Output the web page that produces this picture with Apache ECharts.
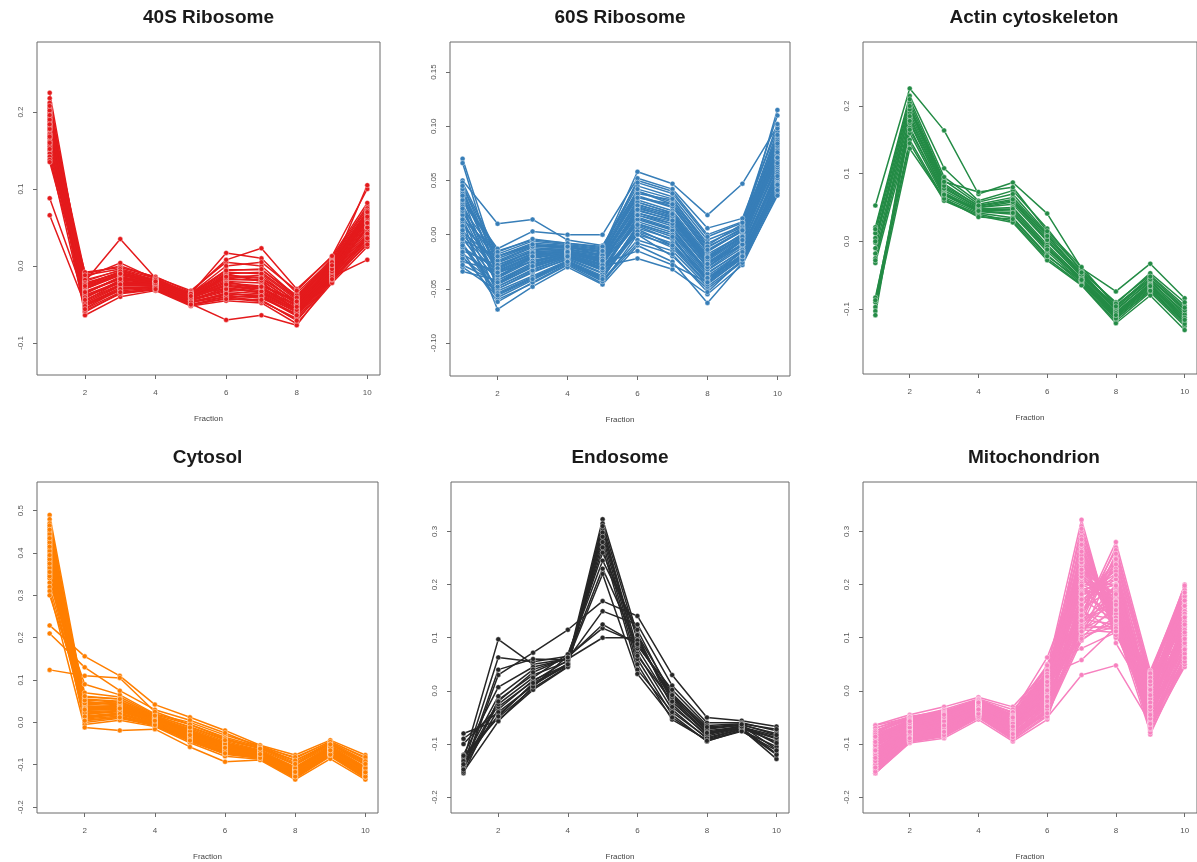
<!DOCTYPE html>
<html>
<head>
<meta charset="utf-8">
<script src="https://cdn.jsdelivr.net/npm/echarts@6/dist/echarts.min.js"></script>
<style>
  html, body { margin: 0; padding: 0; background: #fff; }
  #chart { width: 1197px; height: 862px; }
</style>
</head>
<body>
<div id="chart"></div>
<script>
// Fractionation profiles of marker proteins, one line per protein, fractions 1-10
const fractions = [1, 2, 3, 4, 5, 6, 7, 8, 9, 10];
const fractionTicks = [2, 4, 6, 8, 10];

const titles = ['40S Ribosome', '60S Ribosome', 'Actin cytoskeleton', 'Cytosol', 'Endosome', 'Mitochondrion'];
const colors = ['#e41a1c', '#377eb8', '#238b45', '#ff7f00', '#262626', '#f781bf'];

const ticks40S = [-0.1, 0.0, 0.1, 0.2];
const ticks60S = [-0.10, -0.05, 0.00, 0.05, 0.10, 0.15];
const ticksActin = [-0.1, 0.0, 0.1, 0.2];
const ticksCytosol = [-0.2, -0.1, 0.0, 0.1, 0.2, 0.3, 0.4, 0.5];
const ticksEndosome = [-0.2, -0.1, 0.0, 0.1, 0.2, 0.3];
const ticksMito = [-0.2, -0.1, 0.0, 0.1, 0.2, 0.3];

const ribosome40S = [
  [0.225, -0.030, -0.010, -0.020, -0.040, -0.020, -0.030, -0.050, 0.000, 0.060],
  [0.218, -0.045, -0.020, -0.025, -0.045, -0.010, -0.020, -0.060, -0.010, 0.050],
  [0.210, -0.020, -0.005, -0.018, -0.035, -0.030, -0.025, -0.045, 0.005, 0.070],
  [0.205, -0.055, -0.030, -0.028, -0.048, -0.035, -0.040, -0.065, -0.015, 0.040],
  [0.200, -0.010, 0.000, -0.015, -0.032, 0.005, 0.000, -0.040, 0.010, 0.078],
  [0.198, -0.035, -0.015, -0.022, -0.040, -0.025, -0.030, -0.055, -0.005, 0.055],
  [0.195, -0.060, -0.035, -0.030, -0.050, -0.040, -0.045, -0.070, -0.020, 0.030],
  [0.192, -0.025, -0.008, -0.020, -0.038, -0.015, -0.012, -0.048, 0.002, 0.065],
  [0.188, -0.040, -0.022, -0.024, -0.044, -0.028, -0.035, -0.058, -0.008, 0.048],
  [0.185, -0.015, 0.004, -0.017, -0.036, 0.017, 0.010, -0.035, 0.008, 0.075],
  [0.182, -0.050, -0.028, -0.027, -0.046, -0.038, -0.042, -0.062, -0.012, 0.038],
  [0.180, -0.030, -0.012, -0.021, -0.041, -0.020, -0.022, -0.052, -0.002, 0.058],
  [0.176, -0.064, -0.040, -0.032, -0.052, -0.045, -0.048, -0.075, -0.022, 0.025],
  [0.172, -0.020, 0.035, -0.016, -0.038, -0.010, -0.008, -0.042, 0.004, 0.068],
  [0.170, -0.042, -0.018, -0.023, -0.043, -0.032, -0.028, -0.056, -0.006, 0.052],
  [0.166, -0.008, -0.002, -0.014, -0.034, 0.008, 0.023, -0.030, 0.012, 0.082],
  [0.162, -0.052, -0.032, -0.029, -0.049, -0.070, -0.064, -0.077, -0.018, 0.035],
  [0.158, -0.028, -0.010, -0.020, -0.039, -0.018, -0.018, -0.050, 0.000, 0.062],
  [0.155, -0.046, -0.025, -0.026, -0.047, -0.036, -0.038, -0.060, -0.010, 0.045],
  [0.150, -0.018, -0.006, -0.019, -0.037, -0.005, -0.005, -0.038, 0.006, 0.072],
  [0.146, -0.038, -0.020, -0.023, -0.042, -0.026, -0.032, -0.055, -0.004, 0.055],
  [0.142, -0.058, -0.036, -0.031, -0.051, -0.042, -0.046, -0.068, -0.016, 0.032],
  [0.138, -0.012, -0.004, -0.016, -0.036, 0.000, 0.005, -0.032, 0.013, 0.100],
  [0.135, -0.033, -0.016, -0.022, -0.040, -0.022, -0.026, -0.047, -0.003, 0.105],
  [0.088, -0.040, -0.020, -0.024, -0.045, -0.030, -0.034, -0.058, -0.010, 0.050],
  [0.066, -0.050, -0.030, -0.027, -0.047, -0.040, -0.040, -0.063, -0.014, 0.008],
  [0.212, -0.036, -0.014, -0.021, -0.039, -0.012, -0.015, -0.046, -0.001, 0.060],
  [0.202, -0.048, -0.026, -0.025, -0.045, -0.033, -0.036, -0.060, -0.011, 0.042],
  [0.190, -0.022, -0.009, -0.019, -0.037, -0.008, -0.010, -0.044, 0.003, 0.066],
  [0.178, -0.044, -0.024, -0.024, -0.044, -0.030, -0.033, -0.057, -0.007, 0.050],
  [0.208, -0.028, -0.011, -0.020, -0.039, -0.016, -0.019, -0.049, -0.001, 0.062],
  [0.196, -0.052, -0.030, -0.028, -0.047, -0.036, -0.039, -0.064, -0.014, 0.036],
  [0.184, -0.024, -0.007, -0.018, -0.036, -0.006, -0.004, -0.041, 0.005, 0.070],
  [0.168, -0.034, -0.017, -0.022, -0.041, -0.024, -0.027, -0.053, -0.004, 0.056],
  [0.160, -0.056, -0.034, -0.030, -0.050, -0.043, -0.044, -0.071, -0.017, 0.028],
  [0.152, -0.026, -0.010, -0.020, -0.039, -0.014, -0.016, -0.046, 0.001, 0.064]
];

const ribosome60S = [
  [0.070, -0.030, -0.015, -0.010, -0.020, 0.030, 0.020, -0.020, 0.000, 0.080],
  [0.066, -0.040, -0.020, -0.015, -0.025, 0.020, 0.010, -0.030, -0.005, 0.070],
  [0.050, 0.010, 0.014, -0.005, -0.010, 0.040, 0.030, -0.010, 0.010, 0.090],
  [0.045, -0.020, -0.010, -0.012, -0.015, 0.050, 0.040, 0.000, 0.012, 0.110],
  [0.040, -0.035, -0.025, -0.018, -0.028, 0.025, 0.015, -0.025, -0.010, 0.065],
  [0.035, -0.050, -0.035, -0.022, -0.035, 0.015, 0.005, -0.035, -0.015, 0.060],
  [0.030, -0.015, -0.005, -0.008, -0.012, 0.045, 0.035, -0.005, 0.008, 0.095],
  [0.025, -0.045, -0.030, -0.020, -0.030, 0.010, 0.000, -0.040, -0.020, 0.050],
  [0.020, -0.025, -0.012, -0.014, -0.018, 0.035, 0.025, -0.015, 0.003, 0.085],
  [0.015, -0.055, -0.040, -0.025, -0.040, 0.005, -0.010, -0.045, -0.022, 0.045],
  [0.010, -0.030, -0.018, -0.016, -0.022, 0.028, 0.018, -0.022, -0.002, 0.075],
  [0.005, -0.060, -0.045, -0.028, -0.045, 0.000, -0.020, -0.050, -0.025, 0.040],
  [0.000, -0.038, -0.022, -0.017, -0.024, 0.020, 0.012, -0.028, -0.006, 0.070],
  [-0.005, -0.020, -0.008, -0.010, -0.014, 0.040, 0.028, -0.012, 0.006, 0.088],
  [-0.010, -0.048, -0.032, -0.021, -0.032, 0.012, 0.002, -0.038, -0.016, 0.055],
  [-0.015, -0.028, -0.015, -0.015, -0.020, 0.032, 0.022, -0.018, 0.000, 0.078],
  [-0.020, -0.058, -0.042, -0.026, -0.042, -0.005, -0.015, -0.048, -0.024, 0.042],
  [-0.025, -0.033, -0.020, -0.016, -0.023, 0.022, 0.014, -0.026, -0.004, 0.072],
  [-0.030, -0.052, -0.038, -0.024, -0.038, 0.008, -0.005, -0.042, -0.018, 0.050],
  [-0.034, -0.042, -0.028, -0.019, -0.029, -0.022, -0.032, -0.055, -0.028, 0.038],
  [0.048, -0.018, -0.006, -0.009, -0.013, 0.058, 0.047, 0.018, 0.047, 0.100],
  [0.012, -0.069, -0.048, -0.030, -0.046, -0.010, -0.025, -0.063, -0.026, 0.036],
  [0.038, -0.022, -0.010, -0.011, -0.016, 0.036, 0.026, -0.016, 0.004, 0.115],
  [0.028, -0.036, -0.021, -0.017, -0.026, 0.024, 0.016, -0.024, -0.003, 0.068],
  [0.018, -0.044, -0.027, -0.019, -0.031, 0.016, 0.006, -0.033, -0.012, 0.058],
  [0.008, -0.026, -0.014, -0.013, -0.019, 0.030, 0.020, -0.020, 0.001, 0.082],
  [-0.002, -0.050, -0.034, -0.023, -0.036, 0.006, -0.004, -0.040, -0.019, 0.048],
  [-0.012, -0.032, -0.018, -0.016, -0.021, 0.026, 0.017, -0.023, -0.001, 0.074],
  [-0.022, -0.046, -0.030, -0.020, -0.033, 0.014, 0.004, -0.036, -0.014, 0.056],
  [0.032, -0.013, 0.003, 0.000, 0.000, 0.052, 0.042, 0.006, 0.015, 0.098],
  [0.022, -0.040, -0.024, -0.018, -0.027, -0.015, -0.028, -0.044, -0.014, 0.052],
  [0.002, -0.024, -0.011, -0.012, -0.017, 0.038, 0.032, -0.008, 0.007, 0.092],
  [-0.008, -0.054, -0.039, -0.025, -0.039, 0.002, -0.012, -0.046, -0.021, 0.044],
  [0.042, -0.034, -0.019, -0.015, -0.024, 0.018, 0.008, -0.030, -0.008, 0.062],
  [-0.018, -0.038, -0.024, -0.017, -0.025, 0.010, 0.000, -0.032, -0.010, 0.064],
  [0.045, -0.028, -0.016, -0.014, -0.019, 0.042, 0.033, -0.011, 0.005, 0.086],
  [0.026, -0.048, -0.033, -0.021, -0.033, 0.003, -0.008, -0.043, -0.020, 0.047],
  [0.014, -0.016, -0.004, -0.008, -0.011, 0.048, 0.038, -0.002, 0.011, 0.102],
  [-0.004, -0.042, -0.026, -0.018, -0.028, 0.018, 0.010, -0.030, -0.009, 0.066],
  [-0.016, -0.062, -0.044, -0.027, -0.043, -0.008, -0.018, -0.053, -0.023, 0.041],
  [0.036, -0.031, -0.017, -0.015, -0.022, 0.027, 0.019, -0.021, -0.002, 0.076],
  [0.004, -0.035, -0.020, -0.016, -0.024, 0.023, 0.013, -0.027, -0.005, 0.071],
  [-0.028, -0.044, -0.029, -0.020, -0.031, 0.000, -0.010, -0.040, -0.016, 0.054],
  [0.024, -0.020, -0.009, -0.011, -0.015, 0.034, 0.028, -0.014, 0.004, 0.084],
  [-0.010, -0.056, -0.041, -0.025, -0.041, 0.009, -0.002, -0.044, -0.020, 0.046]
];

const actinCytoskeleton = [
  [0.053, 0.226, 0.164, 0.070, 0.087, 0.041, -0.040, -0.074, -0.033, -0.084],
  [0.021, 0.215, 0.108, 0.060, 0.075, 0.019, -0.045, -0.090, -0.050, -0.095],
  [0.012, 0.205, 0.090, 0.055, 0.065, 0.010, -0.050, -0.095, -0.055, -0.100],
  [0.005, 0.198, 0.085, 0.052, 0.060, 0.005, -0.048, -0.100, -0.060, -0.105],
  [-0.002, 0.190, 0.080, 0.050, 0.055, 0.000, -0.052, -0.105, -0.062, -0.110],
  [-0.010, 0.182, 0.075, 0.048, 0.050, -0.005, -0.055, -0.108, -0.065, -0.112],
  [-0.018, 0.175, 0.072, 0.046, 0.045, -0.010, -0.058, -0.110, -0.068, -0.115],
  [-0.025, 0.168, 0.068, 0.044, 0.040, -0.015, -0.060, -0.112, -0.070, -0.118],
  [-0.032, 0.160, 0.065, 0.042, 0.035, -0.020, -0.062, -0.115, -0.072, -0.120],
  [-0.083, 0.150, 0.062, 0.040, 0.030, -0.025, -0.064, -0.118, -0.075, -0.125],
  [-0.090, 0.145, 0.060, 0.038, 0.028, -0.028, -0.065, -0.121, -0.080, -0.131],
  [-0.097, 0.137, 0.063, 0.036, 0.033, -0.022, -0.058, -0.114, -0.073, -0.122],
  [-0.103, 0.185, 0.078, 0.050, 0.058, 0.002, -0.050, -0.102, -0.058, -0.108],
  [-0.109, 0.178, 0.070, 0.047, 0.048, -0.008, -0.055, -0.106, -0.064, -0.113],
  [0.018, 0.210, 0.095, 0.058, 0.070, 0.012, -0.042, -0.092, -0.047, -0.090],
  [-0.028, 0.195, 0.082, 0.053, 0.062, 0.008, -0.046, -0.098, -0.056, -0.102],
  [-0.087, 0.165, 0.069, 0.045, 0.042, -0.012, -0.057, -0.109, -0.066, -0.116],
  [0.000, 0.200, 0.088, 0.073, 0.080, 0.015, -0.038, -0.096, -0.052, -0.098]
];

const cytosol = [
  [0.490, 0.050, 0.040, 0.010, -0.020, -0.050, -0.070, -0.110, -0.060, -0.110],
  [0.480, 0.030, 0.030, 0.005, -0.030, -0.060, -0.075, -0.120, -0.065, -0.115],
  [0.470, 0.040, 0.050, 0.012, -0.015, -0.045, -0.065, -0.100, -0.055, -0.100],
  [0.460, 0.020, 0.025, 0.000, -0.035, -0.065, -0.080, -0.125, -0.070, -0.125],
  [0.450, 0.060, 0.055, 0.015, -0.010, -0.040, -0.060, -0.095, -0.050, -0.095],
  [0.440, 0.010, 0.020, -0.005, -0.040, -0.070, -0.082, -0.128, -0.075, -0.128],
  [0.430, 0.045, 0.045, 0.008, -0.025, -0.055, -0.072, -0.112, -0.062, -0.112],
  [0.420, 0.000, 0.010, -0.008, -0.045, -0.075, -0.085, -0.130, -0.078, -0.130],
  [0.410, 0.035, 0.035, 0.006, -0.028, -0.058, -0.073, -0.115, -0.064, -0.118],
  [0.400, 0.070, 0.060, 0.018, -0.005, -0.035, -0.058, -0.090, -0.048, -0.090],
  [0.390, 0.025, 0.028, 0.002, -0.032, -0.062, -0.077, -0.122, -0.068, -0.120],
  [0.380, -0.005, 0.005, -0.010, -0.048, -0.080, -0.087, -0.132, -0.080, -0.132],
  [0.370, 0.055, 0.050, 0.014, -0.018, -0.048, -0.067, -0.105, -0.057, -0.105],
  [0.360, 0.015, 0.022, -0.002, -0.038, -0.068, -0.080, -0.125, -0.072, -0.126],
  [0.350, 0.042, 0.040, 0.009, -0.022, -0.052, -0.070, -0.110, -0.060, -0.110],
  [0.340, 0.008, 0.015, -0.006, -0.042, -0.072, -0.083, -0.128, -0.076, -0.127],
  [0.330, 0.090, 0.065, 0.020, 0.000, -0.030, -0.055, -0.085, -0.045, -0.085],
  [0.320, 0.028, 0.032, 0.004, -0.030, -0.060, -0.075, -0.118, -0.066, -0.118],
  [0.310, -0.012, -0.019, -0.016, -0.058, -0.093, -0.089, -0.135, -0.086, -0.135],
  [0.300, 0.048, 0.042, 0.010, -0.024, -0.054, -0.071, -0.108, -0.061, -0.108],
  [0.229, 0.156, 0.110, 0.042, 0.012, -0.019, -0.054, -0.077, -0.042, -0.077],
  [0.210, 0.130, 0.075, 0.030, 0.005, -0.025, -0.058, -0.082, -0.046, -0.082],
  [0.124, 0.110, 0.105, 0.025, -0.005, -0.038, -0.062, -0.090, -0.052, -0.092],
  [0.465, 0.018, 0.028, 0.003, -0.033, -0.063, -0.078, -0.121, -0.069, -0.122],
  [0.445, 0.038, 0.038, 0.007, -0.026, -0.056, -0.072, -0.113, -0.063, -0.114],
  [0.425, 0.005, 0.012, -0.004, -0.043, -0.074, -0.084, -0.127, -0.077, -0.129],
  [0.405, 0.022, 0.026, 0.001, -0.034, -0.064, -0.078, -0.119, -0.067, -0.121],
  [0.385, 0.045, 0.045, 0.011, -0.020, -0.050, -0.068, -0.107, -0.058, -0.107],
  [0.365, 0.012, 0.018, -0.003, -0.039, -0.069, -0.081, -0.124, -0.073, -0.124],
  [0.345, 0.032, 0.034, 0.005, -0.029, -0.059, -0.074, -0.116, -0.065, -0.117],
  [0.455, 0.033, 0.036, 0.006, -0.027, -0.057, -0.073, -0.114, -0.063, -0.116],
  [0.435, 0.014, 0.020, -0.002, -0.037, -0.067, -0.080, -0.124, -0.071, -0.124],
  [0.415, 0.052, 0.048, 0.012, -0.021, -0.051, -0.069, -0.108, -0.059, -0.108],
  [0.395, 0.004, 0.012, -0.006, -0.043, -0.073, -0.084, -0.128, -0.076, -0.128],
  [0.375, 0.030, 0.033, 0.004, -0.030, -0.060, -0.075, -0.117, -0.066, -0.118],
  [0.355, 0.062, 0.055, 0.016, -0.012, -0.042, -0.062, -0.098, -0.052, -0.098]
];

const endosome = [
  [-0.130, 0.097, 0.050, 0.060, 0.100, 0.100, -0.020, -0.080, -0.070, -0.090],
  [-0.140, 0.063, 0.055, 0.065, 0.118, 0.090, -0.010, -0.075, -0.068, -0.085],
  [-0.150, 0.030, 0.072, 0.115, 0.169, 0.141, 0.030, -0.050, -0.056, -0.067],
  [-0.120, 0.007, 0.045, 0.060, 0.150, 0.125, 0.010, -0.060, -0.060, -0.075],
  [-0.155, -0.017, 0.030, 0.055, 0.323, 0.106, -0.005, -0.070, -0.065, -0.100],
  [-0.145, -0.035, 0.020, 0.050, 0.315, 0.095, -0.015, -0.078, -0.066, -0.110],
  [-0.135, -0.045, 0.012, 0.048, 0.305, 0.080, -0.025, -0.085, -0.070, -0.118],
  [-0.125, -0.050, 0.005, 0.046, 0.298, 0.070, -0.035, -0.090, -0.072, -0.128],
  [-0.080, -0.055, 0.002, 0.045, 0.290, 0.060, -0.045, -0.095, -0.074, -0.120],
  [-0.090, -0.040, 0.010, 0.052, 0.280, 0.050, -0.054, -0.092, -0.075, -0.105],
  [-0.100, -0.030, 0.018, 0.058, 0.270, 0.040, -0.040, -0.088, -0.071, -0.095],
  [-0.152, -0.057, 0.008, 0.066, 0.260, 0.105, -0.030, -0.082, -0.069, -0.088],
  [-0.142, -0.025, 0.025, 0.069, 0.245, 0.115, -0.012, -0.072, -0.064, -0.080],
  [-0.132, -0.010, 0.040, 0.062, 0.230, 0.085, 0.002, -0.065, -0.062, -0.072],
  [-0.148, 0.040, 0.060, 0.058, 0.220, 0.032, -0.050, -0.094, -0.076, -0.112],
  [-0.122, -0.048, 0.015, 0.050, 0.310, 0.066, -0.020, -0.079, -0.067, -0.098],
  [-0.138, -0.020, 0.035, 0.063, 0.125, 0.088, -0.008, -0.068, -0.063, -0.083]
];

const mitochondrion = [
  [-0.064, -0.045, -0.030, -0.012, -0.030, 0.040, 0.322, 0.090, -0.020, 0.120],
  [-0.080, -0.050, -0.035, -0.015, -0.035, 0.030, 0.300, 0.110, -0.010, 0.140],
  [-0.100, -0.060, -0.045, -0.020, -0.040, 0.020, 0.280, 0.130, 0.000, 0.160],
  [-0.120, -0.070, -0.055, -0.025, -0.050, 0.010, 0.260, 0.150, 0.010, 0.180],
  [-0.140, -0.080, -0.065, -0.030, -0.060, 0.000, 0.240, 0.170, 0.020, 0.200],
  [-0.155, -0.098, -0.089, -0.054, -0.095, -0.054, 0.140, 0.280, 0.038, 0.190],
  [-0.150, -0.090, -0.080, -0.045, -0.085, -0.040, 0.130, 0.270, 0.030, 0.170],
  [-0.145, -0.085, -0.075, -0.040, -0.080, -0.030, 0.150, 0.250, 0.020, 0.150],
  [-0.135, -0.078, -0.070, -0.035, -0.075, -0.020, 0.160, 0.230, 0.010, 0.130],
  [-0.125, -0.072, -0.060, -0.032, -0.068, -0.010, 0.170, 0.210, 0.000, 0.110],
  [-0.115, -0.068, -0.058, -0.028, -0.062, 0.005, 0.180, 0.200, -0.010, 0.100],
  [-0.105, -0.062, -0.050, -0.026, -0.055, 0.015, 0.190, 0.180, -0.020, 0.090],
  [-0.095, -0.058, -0.048, -0.022, -0.052, 0.025, 0.200, 0.170, -0.030, 0.080],
  [-0.085, -0.055, -0.042, -0.020, -0.048, 0.035, 0.210, 0.160, -0.040, 0.070],
  [-0.075, -0.052, -0.040, -0.018, -0.045, 0.045, 0.220, 0.150, -0.050, 0.060],
  [-0.070, -0.048, -0.038, -0.016, -0.042, 0.063, 0.230, 0.140, -0.060, 0.050],
  [-0.130, -0.075, -0.062, -0.030, -0.058, -0.015, 0.120, 0.190, -0.070, 0.045],
  [-0.110, -0.065, -0.052, -0.024, -0.050, -0.005, 0.110, 0.180, -0.082, 0.060],
  [-0.090, -0.058, -0.046, -0.021, -0.046, 0.008, 0.100, 0.160, -0.075, 0.080],
  [-0.150, -0.095, -0.085, -0.050, -0.090, -0.045, 0.095, 0.140, -0.065, 0.100],
  [-0.140, -0.088, -0.078, -0.042, -0.082, -0.035, 0.105, 0.120, -0.055, 0.120],
  [-0.120, -0.080, -0.068, -0.038, -0.072, -0.025, 0.115, 0.110, -0.045, 0.140],
  [-0.100, -0.070, -0.060, -0.033, -0.065, -0.012, 0.125, 0.115, -0.035, 0.160],
  [-0.080, -0.060, -0.050, -0.027, -0.056, 0.002, 0.135, 0.125, -0.025, 0.180],
  [-0.065, -0.050, -0.040, -0.020, -0.045, 0.018, 0.145, 0.135, -0.015, 0.195],
  [-0.135, -0.082, -0.070, -0.036, -0.070, -0.018, 0.250, 0.155, 0.005, 0.145],
  [-0.125, -0.076, -0.064, -0.034, -0.066, -0.008, 0.270, 0.140, 0.015, 0.125],
  [-0.115, -0.070, -0.058, -0.031, -0.061, 0.000, 0.290, 0.120, 0.025, 0.105],
  [-0.105, -0.066, -0.054, -0.029, -0.057, 0.012, 0.310, 0.100, 0.035, 0.085],
  [-0.095, -0.062, -0.050, -0.027, -0.054, 0.022, 0.200, 0.200, -0.005, 0.150],
  [-0.145, -0.090, -0.078, -0.044, -0.083, -0.028, 0.180, 0.220, -0.025, 0.130],
  [-0.155, -0.094, -0.084, -0.048, -0.088, -0.038, 0.160, 0.240, -0.045, 0.110],
  [-0.085, -0.056, -0.044, -0.023, -0.050, 0.030, 0.058, 0.120, -0.078, 0.050],
  [-0.110, -0.068, -0.056, -0.030, -0.060, -0.050, 0.030, 0.048, -0.060, 0.055],
  [-0.125, -0.074, -0.062, -0.034, -0.064, 0.050, 0.080, 0.110, -0.035, 0.090],
  [-0.135, -0.084, -0.072, -0.040, -0.076, -0.020, 0.215, 0.175, -0.010, 0.175],
  [-0.100, -0.064, -0.054, -0.028, -0.058, 0.010, 0.235, 0.165, 0.008, 0.165],
  [-0.075, -0.054, -0.044, -0.022, -0.050, 0.028, 0.255, 0.145, 0.018, 0.155],
  [-0.115, -0.072, -0.060, -0.032, -0.064, -0.002, 0.190, 0.210, -0.002, 0.135],
  [-0.145, -0.086, -0.074, -0.042, -0.078, -0.032, 0.170, 0.230, -0.018, 0.115],
  [-0.090, -0.060, -0.048, -0.024, -0.052, 0.015, 0.265, 0.135, 0.012, 0.170],
  [-0.130, -0.078, -0.066, -0.035, -0.068, -0.012, 0.245, 0.160, 0.000, 0.150],
  [-0.110, -0.070, -0.057, -0.030, -0.060, 0.002, 0.225, 0.180, -0.012, 0.140],
  [-0.150, -0.092, -0.082, -0.046, -0.086, -0.036, 0.205, 0.200, -0.030, 0.125],
  [-0.070, -0.052, -0.042, -0.019, -0.047, 0.035, 0.185, 0.225, -0.020, 0.110],
  [-0.120, -0.074, -0.060, -0.031, -0.063, -0.006, 0.165, 0.245, 0.015, 0.160],
  [-0.140, -0.086, -0.072, -0.040, -0.075, -0.025, 0.145, 0.265, 0.028, 0.185],
  [-0.100, -0.066, -0.052, -0.027, -0.056, 0.008, 0.155, 0.195, -0.050, 0.095],
  [-0.085, -0.058, -0.046, -0.023, -0.050, 0.020, 0.175, 0.150, -0.065, 0.075],
  [-0.130, -0.080, -0.068, -0.037, -0.070, -0.016, 0.135, 0.170, -0.058, 0.085],
  [-0.145, -0.088, -0.076, -0.043, -0.080, -0.030, 0.115, 0.150, -0.040, 0.105],
  [-0.105, -0.064, -0.052, -0.026, -0.055, 0.014, 0.195, 0.130, -0.028, 0.130],
  [-0.155, -0.096, -0.086, -0.050, -0.092, -0.048, 0.125, 0.200, 0.005, 0.175],
  [-0.075, -0.050, -0.038, -0.017, -0.040, 0.048, 0.275, 0.115, 0.022, 0.145],
  [-0.095, -0.060, -0.047, -0.024, -0.053, 0.026, 0.215, 0.145, -0.072, 0.065],
  [-0.115, -0.072, -0.060, -0.031, -0.062, -0.004, 0.240, 0.125, -0.048, 0.100],
  [-0.088, -0.057, -0.045, -0.022, -0.049, 0.022, 0.305, 0.105, 0.030, 0.190],
  [-0.118, -0.073, -0.060, -0.031, -0.063, 0.006, 0.285, 0.118, -0.015, 0.120],
  [-0.142, -0.087, -0.075, -0.041, -0.079, -0.026, 0.262, 0.138, -0.060, 0.070],
  [-0.098, -0.063, -0.051, -0.026, -0.055, 0.018, 0.242, 0.152, 0.033, 0.198],
  [-0.128, -0.079, -0.066, -0.036, -0.069, -0.010, 0.222, 0.168, -0.042, 0.105],
  [-0.078, -0.053, -0.041, -0.019, -0.046, 0.038, 0.202, 0.185, 0.012, 0.160],
  [-0.148, -0.091, -0.080, -0.045, -0.084, -0.034, 0.182, 0.200, -0.068, 0.080],
  [-0.108, -0.067, -0.055, -0.028, -0.059, 0.004, 0.162, 0.218, -0.005, 0.145],
  [-0.138, -0.083, -0.071, -0.039, -0.074, -0.022, 0.142, 0.238, -0.035, 0.115],
  [-0.092, -0.061, -0.049, -0.025, -0.054, 0.024, 0.122, 0.258, 0.025, 0.178],
  [-0.152, -0.093, -0.083, -0.047, -0.087, -0.042, 0.102, 0.248, -0.015, 0.140],
  [-0.122, -0.075, -0.062, -0.033, -0.066, -0.014, 0.118, 0.122, -0.052, 0.090],
  [-0.082, -0.055, -0.043, -0.021, -0.048, 0.032, 0.152, 0.112, -0.022, 0.125],
  [-0.132, -0.081, -0.069, -0.037, -0.071, -0.019, 0.098, 0.132, -0.070, 0.062],
  [-0.102, -0.065, -0.053, -0.027, -0.057, 0.011, 0.198, 0.118, 0.002, 0.170],
  [-0.112, -0.069, -0.057, -0.029, -0.061, 0.001, 0.248, 0.112, -0.030, 0.110],
  [-0.144, -0.089, -0.077, -0.043, -0.081, -0.029, 0.112, 0.198, -0.008, 0.138],
  [-0.096, -0.061, -0.049, -0.025, -0.053, 0.017, 0.132, 0.162, 0.018, 0.185],
  [-0.126, -0.077, -0.065, -0.035, -0.067, -0.011, 0.172, 0.132, -0.062, 0.078],
  [-0.086, -0.057, -0.045, -0.022, -0.050, 0.027, 0.228, 0.182, -0.045, 0.098]
];

// Panel layout: plot boxes in pixels and y-axis limits
const panels = [
  { lines: ribosome40S,       ticks: ticks40S,       digits: 1, yMin: -0.1416, yMax: 0.291,  box: [37, 42, 343, 333] },
  { lines: ribosome60S,       ticks: ticks60S,       digits: 2, yMin: -0.1304, yMax: 0.1777, box: [450, 42, 340, 334] },
  { lines: actinCytoskeleton, ticks: ticksActin,     digits: 1, yMin: -0.196,  yMax: 0.2946, box: [863, 42, 342, 332] },
  { lines: cytosol,           ticks: ticksCytosol,   digits: 1, yMin: -0.214,  yMax: 0.5677, box: [37, 482, 341, 335] },
  { lines: endosome,          ticks: ticksEndosome,  digits: 1, yMin: -0.2297, yMax: 0.393,  box: [451, 482, 338, 335] },
  { lines: mitochondrion,     ticks: ticksMito,      digits: 1, yMin: -0.2297, yMax: 0.393,  box: [863, 482, 342, 335] }
];

const FONT = '"Liberation Sans", Arial, Helvetica, sans-serif';
const grids = [], xAxes = [], yAxes = [], series = [], graphics = [];

panels.forEach((p, i) => {
  const [left, top, width, height] = p.box;
  grids.push({
    left, top, width, height,
    show: true, borderColor: '#6b6b6b', borderWidth: 1, backgroundColor: 'transparent'
  });
  xAxes.push({
    gridIndex: i, type: 'value', min: 0.64, max: 10.36, position: 'bottom',
    name: 'Fraction', nameLocation: 'middle', nameGap: 40,
    nameTextStyle: { fontFamily: FONT, fontSize: 8, color: '#444' },
    axisLine: { show: false, onZero: false },
    axisTick: { show: true, inside: false, length: 4, customValues: fractionTicks, lineStyle: { color: '#6b6b6b' } },
    axisLabel: { show: true, customValues: fractionTicks, margin: 14, fontFamily: FONT, fontSize: 8, color: '#555' },
    splitLine: { show: false }
  });
  yAxes.push({
    gridIndex: i, type: 'value', min: p.yMin, max: p.yMax, position: 'left',
    axisLine: { show: false, onZero: false },
    axisTick: { show: true, inside: false, length: 4, customValues: p.ticks, lineStyle: { color: '#6b6b6b' } },
    axisLabel: {
      show: true, customValues: p.ticks, rotate: 90, margin: 12,
      fontFamily: FONT, fontSize: 8, color: '#555',
      formatter: (v) => Number(v).toFixed(p.digits)
    },
    splitLine: { show: false }
  });
  p.lines.forEach((vals) => {
    series.push({
      type: 'line', xAxisIndex: i, yAxisIndex: i,
      data: fractions.map((f, k) => [f, vals[k]]),
      symbol: 'circle', symbolSize: 5, showSymbol: true,
      lineStyle: { color: colors[i], width: 1.5 },
      itemStyle: { color: colors[i], borderColor: '#ffffff', borderWidth: 0.4 },
      silent: true, animation: false, emphasis: { disabled: true }
    });
  });
  graphics.push({
    type: 'text', x: left + width / 2, y: top - 24,
    style: {
      text: titles[i], x: 0, y: 0, textAlign: 'center', textVerticalAlign: 'middle',
      font: 'bold 19px ' + FONT, fill: '#1a1a1a'
    }
  });
});

// the third column's box extends past the page edge, so centre its titles on the visible part of the plot
graphics[2].x = 1034;
graphics[5].x = 1034;

const chart = echarts.init(document.getElementById('chart'), null, { renderer: 'canvas' });
chart.setOption({
  backgroundColor: '#ffffff',
  animation: false,
  grid: grids,
  xAxis: xAxes,
  yAxis: yAxes,
  series: series,
  graphic: graphics
});
</script>
</body>
</html>
